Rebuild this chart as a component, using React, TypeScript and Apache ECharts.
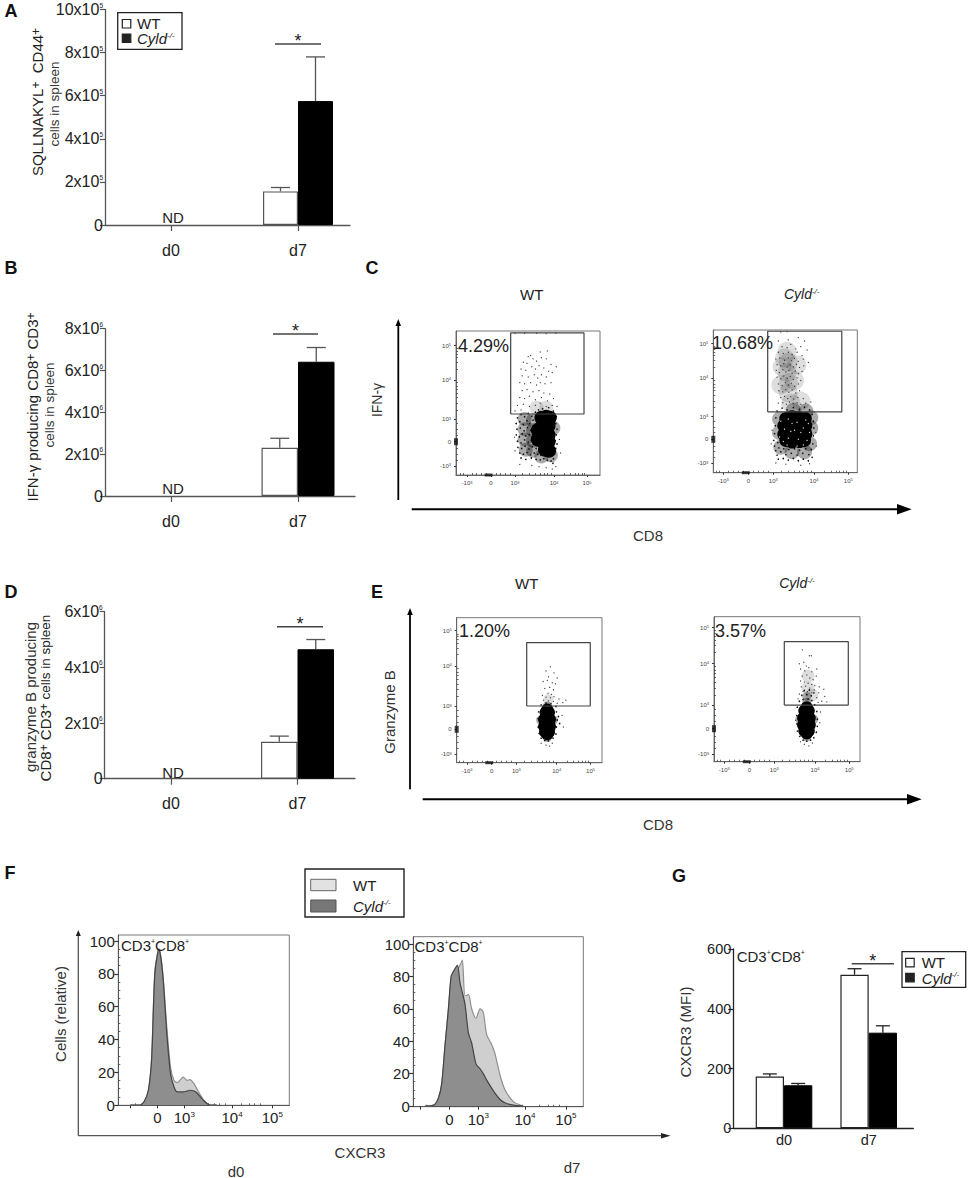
import React, { useEffect, useRef } from "react";
import * as echarts from "echarts";

const SANS = '"Liberation Sans", Arial, sans-serif';
const INK = "#222";

// ---------- bar panels ----------
const days = ["d0", "d7"];
const aTicks = [0, 200000, 400000, 600000, 800000, 1000000];
const aWT = [null, 156000];
const aWTerr = [null, 174000];
const aKO = [null, 575000];
const aKOerr = [null, 780000];
const bTicks = [0, 2000000, 4000000, 6000000, 8000000];
const bWT = [null, 2310000];
const bWTerr = [null, 2760000];
const bKO = [null, 6420000];
const bKOerr = [null, 7100000];
const dTicks = [0, 2000000, 4000000, 6000000];
const dWT = [null, 1330000];
const dWTerr = [null, 1530000];
const dKO = [null, 4650000];
const dKOerr = [null, 5000000];
const gTicks = [0, 200, 400, 600];
const gWT = [173, 514];
const gWTerr = [182, 534];
const gKO = [144, 320];
const gKOerr = [150, 343];

// ---------- flow plots (biexponential axis units) ----------
const flowXTicks = [-1, 0, 1, 2.63, 4];
const flowYTicks = [-1.07, 0, 1, 2.72, 4.23];
const flowTickLabels = ["-10|3", "0", "10|3", "10|4", "10|5"];
const flowXMinor = [-1.3, -1.15, -0.8, -0.6, -0.4, -0.2, 0.2, 0.4, 0.6, 0.8, 1.3, 1.6, 1.85, 2.05, 2.2, 2.35, 2.5, 3.05, 3.3, 3.5, 3.65, 3.8, 3.9];
const flowYMinor = [-0.8, -0.55, -0.3, 0.3, 0.55, 0.8, 1.4, 1.7, 1.95, 2.15, 2.3, 2.45, 2.6, 3.2, 3.5, 3.7, 3.85, 4.0, 4.1];

const cWtGate = [[0.82, 1.22], [3.875, 1.22], [3.875, 4.79], [0.82, 4.79], [0.82, 1.22]];
const cWtCore = [[2.1, 1.05], [2.3, 1.1], [2.45, 1.05], [2.15, 0.7], [2.4, 0.7], [2.1, 0.35], [2.4, 0.3], [2.15, 0], [2.4, 0], [2.25, -0.35], [2.42, -0.4], [1.95, 0.5], [1.95, 0.1]];
const cWtHaze = [[1.4, 1.0], [1.4, 0.55], [1.4, 0.1], [1.45, -0.35], [1.75, 0.95], [1.75, 0.5], [1.75, 0.05], [1.75, -0.4], [2.1, -0.65], [2.5, -0.6], [2.6, 0.6]];
const cWtGlow = [[1.9, 1.5], [2.3, 1.5]];
const cWtMid = [
  [1.1, 1.05], [1.25, 1.2], [1.4, 1.1], [1.55, 1.25], [1.7, 1.12], [1.85, 1.3], [1.98, 1.4], [2.15, 1.45], [2.4, 1.5], [2.6, 1.35], [2.72, 1.1],
  [1.05, 0.8], [1.2, 0.88], [1.35, 0.75], [1.5, 0.92], [1.62, 0.8], [1.75, 0.95], [1.85, 0.78], [2.7, 0.8], [2.75, 0.55],
  [1.08, 0.55], [1.22, 0.6], [1.38, 0.48], [1.52, 0.62], [1.65, 0.5], [1.78, 0.65], [2.72, 0.3],
  [1.05, 0.3], [1.18, 0.22], [1.3, 0.35], [1.45, 0.25], [1.6, 0.32], [1.72, 0.2], [2.68, 0.05], [2.75, -0.1],
  [1.1, 0.02], [1.25, -0.05], [1.4, 0.08], [1.55, -0.02], [1.68, 0.05], [1.8, -0.1], [2.7, -0.3],
  [1.12, -0.25], [1.28, -0.3], [1.42, -0.2], [1.58, -0.32], [1.72, -0.22], [1.88, -0.3], [2.0, -0.2], [2.65, -0.55],
  [1.2, -0.5], [1.35, -0.55], [1.5, -0.48], [1.65, -0.58], [1.8, -0.5], [1.95, -0.55], [2.08, -0.6], [2.6, -0.75],
  [1.25, -0.72], [1.45, -0.78], [1.68, -0.72], [1.88, -0.78], [2.05, -0.8], [2.2, -0.75], [2.35, -0.82], [2.5, -0.85], [2.58, -0.95],
];
const cWtSparse = [
  [2.05, 3.95], [2.35, 4.0], [1.55, 3.75], [1.65, 3.8], [1.75, 3.65], [1.35, 3.5], [1.5, 3.45], [1.9, 3.55], [2.1, 3.7], [2.3, 3.65], [2.5, 3.4], [2.72, 3.3],
  [1.25, 3.2], [1.45, 3.15], [1.7, 3.3], [1.85, 3.2], [2.0, 3.35], [2.2, 3.25], [2.4, 3.1], [2.55, 3.05], [1.3, 2.9], [1.55, 2.85], [1.8, 2.95], [1.95, 2.8],
  [2.1, 2.95], [2.3, 2.85], [1.2, 2.6], [1.4, 2.55], [1.65, 2.6], [1.9, 2.5], [2.05, 2.6], [2.25, 2.55], [2.5, 2.6], [1.3, 2.25], [1.5, 2.3], [1.75, 2.2],
  [2.0, 2.25], [2.2, 2.15], [2.45, 2.1], [1.2, 1.95], [1.4, 1.9], [1.6, 2.0], [1.85, 1.85], [2.1, 1.95], [2.35, 1.8], [2.6, 1.9], [1.1, 1.6], [1.35, 1.65],
  [1.6, 1.55], [1.85, 1.6], [2.05, 1.7], [2.3, 1.55], [2.55, 1.6], [2.75, 1.55], [1.0, 1.35], [1.25, 1.4], [1.0, 4.78], [1.4, 4.78], [1.9, 4.78], [2.3, 4.76], [2.7, 4.78],
  [1.2, -1.0], [1.7, -1.05], [2.0, -1.1], [2.3, -1.15], [2.55, -1.2], [2.7, -1.1], [1.0, -0.4], [0.98, 0.2], [2.85, 0.1], [2.9, -0.5],
];

const cKoGate = [[0.776, 1.21], [3.74, 1.21], [3.74, 4.78], [0.776, 4.78], [0.776, 1.21]];
const cKoCore = [[1.5, 0.92], [1.75, 1.0], [2.0, 0.98], [2.28, 0.92], [1.42, 0.6], [1.7, 0.62], [2.0, 0.6], [2.3, 0.6], [1.42, 0.22], [1.7, 0.25], [2.0, 0.2], [2.3, 0.22], [1.5, -0.05], [1.75, -0.12], [2.05, -0.1], [2.25, -0.05]];
const cKoHaze = [[1.25, 0.9], [1.25, 0.3], [1.3, -0.35], [1.75, -0.55], [2.25, -0.55], [2.5, 0.5], [2.45, -0.2], [1.8, 1.3], [2.3, 1.25], [2.5, 0.95]];
const cKoGlow = [[1.55, 3.9], [1.6, 3.4], [1.55, 2.95], [1.6, 2.5], [1.6, 2.05], [1.7, 1.6], [1.95, 3.3], [1.35, 3.2], [1.85, 2.6], [1.3, 2.4], [1.45, 3.6], [2.1, 1.7]];
const cKoSpecks = [[1.3, 0.8], [1.6, 0.9], [1.95, 0.75], [2.3, 0.85], [1.45, 0.45], [1.85, 0.4], [2.2, 0.5], [2.45, 0.3], [1.25, 0.1], [1.6, 0.05], [2.0, 0.0], [2.35, -0.05], [1.55, -0.25], [1.95, -0.3], [2.2, -0.25], [1.75, 0.7], [2.1, 0.3], [1.4, -0.1], [1.7, 0.35], [2.4, 0.7]];
const cKoMid = [
  [1.15, 1.25], [1.35, 1.38], [1.55, 1.3], [1.8, 1.4], [2.05, 1.32], [2.25, 1.42], [2.45, 1.3], [2.55, 1.1], [2.6, 0.8], [2.62, 0.5], [2.6, 0.15], [2.58, -0.2],
  [1.1, 0.95], [1.08, 0.6], [1.05, 0.25], [1.02, -0.05], [1.05, -0.3], [1.1, -0.5], [1.15, -0.7], [1.22, -0.38], [1.3, -0.55], [1.42, -0.42], [1.5, -0.68], [1.62, -0.45],
  [1.72, -0.62], [1.85, -0.42], [1.95, -0.7], [2.05, -0.48], [2.18, -0.62], [2.3, -0.42], [2.42, -0.68], [2.52, -0.45], [2.55, -0.8], [1.2, -0.88], [1.4, -0.85], [1.6, -0.92],
  [1.8, -0.85], [2.0, -0.95], [2.2, -0.88], [2.4, -0.95], [1.18, -0.15], [1.25, 0.1], [2.5, 0.4], [2.48, 0.0],
];
const cKoSparse = [
  [1.2, 4.35], [1.6, 4.4], [2.0, 4.5], [2.25, 4.35], [1.35, 4.1], [1.55, 4.05], [1.7, 4.2], [1.9, 4.0], [2.1, 4.1], [1.2, 3.85], [1.4, 3.8], [1.6, 3.85], [1.75, 3.75], [1.95, 3.85], [2.15, 3.7],
  [2.35, 3.95], [1.1, 3.55], [1.25, 3.6], [1.45, 3.5], [1.6, 3.6], [1.72, 3.48], [1.85, 3.58], [2.0, 3.45], [2.2, 3.55], [1.15, 3.3], [1.3, 3.25], [1.42, 3.35], [1.55, 3.2], [1.68, 3.3], [1.8, 3.2],
  [1.92, 3.32], [2.05, 3.18], [2.22, 3.25], [2.4, 3.4], [1.12, 3.05], [1.25, 2.95], [1.38, 3.08], [1.5, 2.98], [1.62, 3.05], [1.75, 2.92], [1.88, 3.02], [2.0, 2.9], [2.15, 3.0], [1.15, 2.75], [1.3, 2.68],
  [1.42, 2.8], [1.55, 2.7], [1.68, 2.78], [1.8, 2.65], [1.95, 2.72], [2.1, 2.6], [1.2, 2.45], [1.35, 2.38], [1.48, 2.5], [1.6, 2.4], [1.72, 2.48], [1.85, 2.35], [2.0, 2.45], [1.22, 2.15], [1.38, 2.1],
  [1.5, 2.2], [1.62, 2.08], [1.75, 2.18], [1.9, 2.05], [2.05, 2.15], [1.3, 1.85], [1.45, 1.9], [1.58, 1.8], [1.7, 1.88], [1.82, 1.78], [1.98, 1.85], [2.2, 1.8], [1.2, 1.6], [1.38, 1.62], [1.52, 1.55],
  [1.65, 1.65], [1.8, 1.58], [1.95, 1.62], [2.1, 1.55], [2.3, 1.6], [2.5, 1.65], [0.95, 0.4], [0.92, -0.2], [1.1, -1.05], [1.5, -1.1], [2.1, -1.15], [2.45, -1.08], [2.7, 0.3], [2.72, -0.3], [1.3, 4.75], [1.55, 4.77],
];

const eWtGate = [[1.417, 1.0], [3.99, 1.0], [3.99, 3.72], [1.417, 3.72], [1.417, 1.0]];
const eWtCore = [[2.18, 0.72], [2.32, 0.72], [2.12, 0.42], [2.36, 0.42], [2.12, 0.12], [2.36, 0.12], [2.16, -0.12], [2.32, -0.12], [2.25, 0.85], [2.25, -0.22]];
const eWtHaze = [[2.25, 1.0], [2.25, -0.35], [1.98, 0.4], [2.5, 0.4]];
const eWtGlow = [[2.3, 1.3]];
const eWtMid = [
  [2.0, 1.05], [2.2, 1.12], [2.4, 1.1], [2.6, 0.98], [1.9, 0.75], [2.62, 0.75], [1.88, 0.45], [2.65, 0.4], [1.88, 0.1], [2.62, 0.1],
  [1.92, -0.18], [2.6, -0.2], [2.0, -0.38], [2.15, -0.48], [2.3, -0.5], [2.48, -0.38], [2.7, 0.55], [2.75, 0.25],
];
const eWtSparse = [
  [2.38, 2.68], [2.2, 2.5], [2.52, 2.42], [2.3, 2.25], [2.65, 2.2], [2.08, 2.05], [2.25, 2.1], [2.45, 2.0], [2.58, 1.95], [2.15, 1.75], [2.35, 1.8], [2.5, 1.7], [2.28, 1.55], [2.42, 1.5],
  [2.05, 1.45], [2.2, 1.38], [2.38, 1.35], [2.52, 1.4], [2.72, 1.3], [3.0, 1.25], [2.88, 1.15], [2.1, 1.25], [2.3, 1.22], [2.5, 1.2], [2.65, 1.12], [2.0, -0.6], [2.2, -0.68], [2.35, -0.72], [2.45, -0.6], [2.85, 0.6], [2.9, 0.1],
];

const eKoGate = [[1.4, 0.99], [3.96, 0.99], [3.96, 3.64], [1.4, 3.64], [1.4, 0.99]];
const eKoCore = [[2.2, 0.75], [2.38, 0.75], [2.15, 0.45], [2.42, 0.45], [2.15, 0.15], [2.42, 0.15], [2.2, -0.1], [2.38, -0.1], [2.3, 0.9], [2.3, -0.2]];
const eKoHaze = [[2.3, 1.1], [2.3, -0.35], [2.02, 0.4], [2.58, 0.4], [2.3, 1.35]];
const eKoGlow = [[2.35, 1.7], [2.35, 2.2], [2.5, 1.4]];
const eKoMid = [
  [2.0, 1.15], [2.15, 1.22], [2.35, 1.25], [2.5, 1.18], [2.62, 1.0], [1.92, 0.9], [2.7, 0.72], [1.9, 0.55], [2.72, 0.4], [1.9, 0.2], [2.72, 0.1], [1.92, -0.1], [2.68, -0.15], [2.02, -0.32], [2.58, -0.38],
  [2.15, -0.48], [2.3, -0.52], [2.45, -0.48], [2.1, 1.4], [2.3, 1.42], [2.48, 1.38], [2.2, 1.6], [2.4, 1.62], [2.58, 1.5],
];
const eKoSparse = [
  [2.12, 3.3], [2.4, 3.05], [2.48, 3.05], [2.0, 2.72], [2.18, 2.78], [2.28, 2.62], [2.05, 2.5], [2.22, 2.42], [2.38, 2.55], [2.5, 2.38], [2.7, 2.5], [2.12, 2.2], [2.3, 2.25], [2.42, 2.12], [2.55, 2.05],
  [2.68, 2.2], [2.05, 2.0], [2.2, 1.95], [2.35, 1.9], [2.5, 1.85], [2.62, 1.8], [2.8, 1.75], [2.98, 1.65], [2.08, 1.75], [2.25, 1.78], [2.42, 1.7], [2.6, 1.62], [2.78, 1.5], [3.02, 1.35], [2.0, 1.45],
  [2.15, 1.55], [2.32, 1.55], [2.5, 1.5], [2.7, 1.3], [2.9, 1.15], [1.95, 1.25], [2.75, 1.1], [3.1, 1.12], [1.85, 0.35], [2.82, 0.25], [2.05, -0.55], [2.2, -0.65], [2.38, -0.72], [2.52, -0.6], [2.85, 0.7],
];

// ---------- histograms ----------
const histYTicks = [0, 20, 40, 60, 80, 100];
const histYMinor = [5, 10, 15, 25, 30, 35, 45, 50, 55, 65, 70, 75, 85, 90, 95];
const histXLabels = ["0", "10|3", "10|4", "10|5"];
const f0Ticks = [-1, 0, 1, 2.77, 4.26];
const f7Ticks = [-1, 0, 1, 2.61, 4.02];
const histXMinor = [-0.8, -0.6, -0.4, -0.2, 0.2, 0.4, 0.6, 0.8, 1.3, 1.6, 1.9, 2.1, 2.3, 2.5, 3.1, 3.4, 3.6, 3.8];
const f0X = [-1.0, -0.64, -0.49, -0.33, -0.21, -0.09, 0.06, 0.2, 0.35, 0.49, 0.62, 0.74, 0.96, 1.1, 1.21, 1.36, 1.46, 1.7, 1.95, 2.2];
const f0KO = [0, 0, 2, 9, 28, 80, 95, 80, 44, 19, 11, 8, 8, 8.5, 9, 8.5, 7.5, 3, 0, 0];
const f0WT = [0, 0, 2, 9, 29, 82, 95, 81, 48, 23, 15, 13.7, 17, 15, 15.5, 13, 10, 3.5, 0, 0];
const f7X = [-0.84, -0.55, -0.38, -0.26, -0.15, -0.03, 0.06, 0.14, 0.28, 0.37, 0.45, 0.54, 0.66, 0.77, 0.92, 1.06, 1.17, 1.29, 1.46, 1.57, 1.75, 1.92, 2.21, 2.55];
const f7KO = [0, 0.4, 4.7, 14, 37, 60, 80, 83, 87, 76, 70, 63, 45, 39, 26, 23, 20, 16, 11, 8, 4, 2, 0.5, 0];
const f7WT = [0, 0.4, 4.7, 14, 37, 60, 78, 81, 84, 87, 90, 68, 68.7, 60, 54, 60, 58, 44, 38, 32.6, 19, 10, 2.7, 0];

// ---------- builders ----------
const grids: any[] = [];
const xAxes: any[] = [];
const yAxes: any[] = [];
const series: any[] = [];

const supRich = (size: number, sup: number, italic = false) => ({
  b: { fontFamily: SANS, fontSize: size, color: INK, fontStyle: italic ? "italic" : "normal" },
  s: { fontFamily: SANS, fontSize: sup, color: INK, verticalAlign: "top", fontStyle: italic ? "italic" : "normal", padding: [0, 0, 4, 0] },
});
const supText = (t: string) => {
  const [a, b] = t.split("|");
  return b ? `{b|${a}}{s|${b}}` : `{b|${a}}`;
};

function barPanel(o: any) {
  const { l, r, t, b, x0, x1, ticks, ymax, exp, wt, wte, ko, koe, bw, cap, margin, font, xTick, line, yMargin } = o;
  const unit = x1 - x0;
  const i = grids.length;
  grids.push({ left: l, top: t, width: r - l, height: b - t, containLabel: false });
  xAxes.push({
    gridIndex: i, type: "value", min: 1 + (l - x0) / unit, max: 1 + (r - x0) / unit, splitLine: { show: false },
    axisLine: { onZero: false, lineStyle: { color: line, width: 1.3 } },
    axisTick: { show: xTick, customValues: [1, 2], length: 6, lineStyle: { color: line, width: 1.2 } },
    axisLabel: { customValues: [1, 2], margin, formatter: (v: number) => days[v - 1], fontFamily: SANS, fontSize: font, color: INK },
  });
  yAxes.push({
    gridIndex: i, type: "value", min: 0, max: ymax, splitLine: { show: false },
    axisLine: { onZero: false, lineStyle: { color: line, width: 1.3 } },
    axisTick: { length: 5, customValues: ticks, lineStyle: { color: line, width: 1.2 } },
    axisLabel: {
      customValues: ticks, margin: yMargin,
      formatter: (v: number) => (exp ? (v === 0 ? "{b|0}" : `{b|${v / Math.pow(10, exp)}x10}{s|${exp}}`) : `{b|${v}}`),
      rich: supRich(font, 6.5),
    },
  });
  const mk = (vals: any[]) => vals.map((v, k) => [k + 1, v]);
  series.push(
    { type: "bar", xAxisIndex: i, yAxisIndex: i, barWidth: bw, barGap: "0%", data: mk(wt), itemStyle: { color: "#fff", borderColor: line, borderWidth: 1.2 } },
    { type: "bar", xAxisIndex: i, yAxisIndex: i, barWidth: bw, barGap: "0%", data: mk(ko), itemStyle: { color: "#000", borderColor: "#000", borderWidth: 1 } },
  );
  const err = (vals: any[], errs: any[], dx: number) => ({
    type: "custom", xAxisIndex: i, yAxisIndex: i, z: 3,
    data: vals.map((v, k) => [k + 1, v, errs[k]]).filter((d) => d[1] !== null),
    encode: { x: 0, y: [1, 2] },
    renderItem: (_: any, api: any) => {
      const a = api.coord([api.value(0), api.value(1)]);
      const c = api.coord([api.value(0), api.value(2)]);
      const x = a[0] + dx;
      const style = { stroke: line, lineWidth: 1.3 };
      return {
        type: "group",
        children: [
          { type: "line", shape: { x1: x, y1: a[1], x2: x, y2: c[1] }, style },
          { type: "line", shape: { x1: x - cap, y1: c[1], x2: x + cap, y2: c[1] }, style },
        ],
      };
    },
  });
  series.push(err(wt, wte, -bw / 2), err(ko, koe, bw / 2));
}

function addMinorAxes(i: number, xo: any, yo: any, xMinor: number[], yMinor: number[], color: string) {
  xAxes.push({ gridIndex: i, type: "value", min: xo.min, max: xo.max, position: "bottom", splitLine: { show: false }, axisLine: { show: false, onZero: false }, axisLabel: { show: false }, axisTick: { inside: true, length: 2, customValues: xMinor, lineStyle: { color, width: 0.8 } } });
  yAxes.push({ gridIndex: i, type: "value", min: yo.min, max: yo.max, position: "left", splitLine: { show: false }, axisLine: { show: false, onZero: false }, axisLabel: { show: false }, axisTick: { inside: true, length: 2, customValues: yMinor, lineStyle: { color, width: 0.8 } } });
}

function flowPanel(o: any) {
  const { l, r, t, b, x0, ux, y0, uy, gate, core, coreSize, mid, sparse, haze, hazeSize, glow, glowSize, specks } = o;
  const i = grids.length;
  grids.push({ left: l, top: t, width: r - l, height: b - t, show: true, borderColor: "#777", borderWidth: 1, backgroundColor: "transparent" });
  const xo = { min: (l - x0) / ux, max: (r - x0) / ux };
  const yo = { min: (y0 - b) / uy, max: (y0 - t) / uy };
  const lbl = (ticks: number[]) => ({
    customValues: ticks, margin: 5,
    formatter: (v: number) => supText(flowTickLabels[ticks.indexOf(v)] ?? ""),
    rich: { b: { fontFamily: SANS, fontSize: 6, color: "#444" }, s: { fontFamily: SANS, fontSize: 4, color: "#444", verticalAlign: "top" } },
  });
  xAxes.push({ gridIndex: i, type: "value", ...xo, splitLine: { show: false }, axisLine: { onZero: false, lineStyle: { color: "#666", width: 1 } }, axisTick: { length: 2, customValues: flowXTicks, lineStyle: { color: "#333" } }, axisLabel: lbl(flowXTicks) });
  yAxes.push({ gridIndex: i, type: "value", ...yo, splitLine: { show: false }, axisLine: { onZero: false, lineStyle: { color: "#666", width: 1 } }, axisTick: { length: 2, customValues: flowYTicks, lineStyle: { color: "#333" } }, axisLabel: lbl(flowYTicks) });
  const ax = xAxes.length - 1;
  const ay = yAxes.length - 1;
  addMinorAxes(i, xo, yo, flowXMinor, flowYMinor, "#444");
  const dots = (data: number[][], size: number, color: string, opacity = 1) => ({
    type: "scatter", xAxisIndex: ax, yAxisIndex: ay, data, symbolSize: size, itemStyle: { color, opacity }, silent: true,
  });
  series.push(dots(glow, glowSize, "#000", 0.13), dots(haze, hazeSize, "#000", 0.33), dots(sparse, 1.2, "#333"), dots(mid, 1.6, "#111"), dots(core, coreSize, "#000"));
  if (specks) series.push(dots(specks, 1.3, "#ddd"));
  series.push({
    type: "line", xAxisIndex: ax, yAxisIndex: ay, data: gate, showSymbol: false, symbol: "none", clip: false, z: 4,
    lineStyle: { color: "#444", width: 1.2 },
  });
  series.push(
    { type: "scatter", xAxisIndex: ax, yAxisIndex: ay, data: [[xo.min, 0]], symbol: "rect", symbolSize: [4, 7], clip: false, itemStyle: { color: "#111" } },
    { type: "scatter", xAxisIndex: ax, yAxisIndex: ay, data: [[-0.1, yo.min]], symbol: "rect", symbolSize: [8, 3], clip: false, itemStyle: { color: "#111" } },
  );
}

function histPanel(o: any) {
  const { l, r, t, b, x0, ux, zero, hundred, ticks, xs, wt, ko } = o;
  const i = grids.length;
  grids.push({ left: l, top: t, width: r - l, height: b - t, show: true, borderColor: "#777", borderWidth: 1, backgroundColor: "transparent" });
  const pxPerUnit = (zero - hundred) / 100;
  const xo = { min: (l - x0) / ux, max: (r - x0) / ux };
  const yo = { min: (zero - b) / pxPerUnit, max: (zero - t) / pxPerUnit };
  const xShown = ticks.slice(1);
  xAxes.push({
    gridIndex: i, type: "value", ...xo, splitLine: { show: false }, axisLine: { onZero: false, lineStyle: { color: "#555", width: 1 } },
    axisTick: { length: 3, customValues: ticks, lineStyle: { color: "#333" } },
    axisLabel: { customValues: xShown, margin: 5, formatter: (v: number) => supText(histXLabels[xShown.indexOf(v)] ?? ""), rich: supRich(15, 8) },
  });
  yAxes.push({
    gridIndex: i, type: "value", ...yo, splitLine: { show: false }, axisLine: { onZero: false, lineStyle: { color: "#555", width: 1 } },
    axisTick: { length: 4, customValues: histYTicks, lineStyle: { color: "#333", width: 1.2 } },
    axisLabel: { customValues: histYTicks, margin: 3.5, fontFamily: SANS, fontSize: 15, color: INK },
  });
  const ax = xAxes.length - 1;
  const ay = yAxes.length - 1;
  addMinorAxes(i, xo, yo, histXMinor, histYMinor, "#444");
  const area = (vals: number[], fill: string, stroke: string) => ({
    type: "line", xAxisIndex: ax, yAxisIndex: ay, data: xs.map((x: number, k: number) => [x, vals[k]]), smooth: 0.25, showSymbol: false, symbol: "none",
    lineStyle: { color: stroke, width: 1.2 }, areaStyle: { color: fill, opacity: 1 },
  });
  series.push(area(wt, "#cfcfcf", "#8f8f8f"), area(ko, "#8e8e8e", "#444"));
}

barPanel({ l: 105, r: 350, t: 9.5, b: 225, x0: 171, x1: 298, ticks: aTicks, ymax: 1000000, exp: 5, wt: aWT, wte: aWTerr, ko: aKO, koe: aKOerr, bw: 35, cap: 9.5, margin: 17, font: 16, xTick: true, line: "#555", yMargin: 2 });
barPanel({ l: 105, r: 355, t: 328.7, b: 496, x0: 171, x1: 298, ticks: bTicks, ymax: 8000000, exp: 6, wt: bWT, wte: bWTerr, ko: bKO, koe: bKOerr, bw: 36.5, cap: 9.5, margin: 17, font: 16, xTick: true, line: "#555", yMargin: 2 });
barPanel({ l: 104.7, r: 355, t: 611.7, b: 778.7, x0: 171, x1: 297.5, ticks: dTicks, ymax: 6000000, exp: 6, wt: dWT, wte: dWTerr, ko: dKO, koe: dKOerr, bw: 36.5, cap: 9.5, margin: 17, font: 16, xTick: true, line: "#555", yMargin: 2 });
barPanel({ l: 733.3, r: 913.3, t: 949, b: 1128.3, x0: 784, x1: 868.7, ticks: gTicks, ymax: 600, exp: 0, wt: gWT, wte: gWTerr, ko: gKO, koe: gKOerr, bw: 28.3, cap: 7, margin: 4, font: 14.5, xTick: false, line: "#222", yMargin: 2 });

flowPanel({ l: 456, r: 600, t: 331, b: 475, x0: 491, ux: 24, y0: 441.7, uy: 22.7, gate: cWtGate, core: cWtCore, coreSize: 14, mid: cWtMid, sparse: cWtSparse, haze: cWtHaze, hazeSize: 14, glow: cWtGlow, glowSize: 14 });
flowPanel({ l: 713.3, r: 857.3, t: 330, b: 472.7, x0: 748.3, ux: 25, y0: 439.3, uy: 22.6, gate: cKoGate, core: cKoCore, coreSize: 13, mid: cKoMid, sparse: cKoSparse, haze: cKoHaze, hazeSize: 15, glow: cKoGlow, glowSize: 19, specks: cKoSpecks });
flowPanel({ l: 456.7, r: 602, t: 617.7, b: 762.7, x0: 491.7, ux: 24.7, y0: 729.3, uy: 23.3, gate: eWtGate, core: eWtCore, coreSize: 12, mid: eWtMid, sparse: eWtSparse, haze: eWtHaze, hazeSize: 9, glow: eWtGlow, glowSize: 10 });
flowPanel({ l: 714, r: 860, t: 616.7, b: 761.7, x0: 749.3, ux: 25, y0: 728.7, uy: 23.9, gate: eKoGate, core: eKoCore, coreSize: 12, mid: eKoMid, sparse: eKoSparse, haze: eKoHaze, hazeSize: 9, glow: eKoGlow, glowSize: 13 });

histPanel({ l: 118.3, r: 289.3, t: 935, b: 1105.3, x0: 157.3, ux: 27, zero: 1105, hundred: 941, ticks: f0Ticks, xs: f0X, wt: f0WT, ko: f0KO });
histPanel({ l: 413.3, r: 583.3, t: 936.7, b: 1106.7, x0: 449.3, ux: 29, zero: 1106, hundred: 944, ticks: f7Ticks, xs: f7X, wt: f7WT, ko: f7KO });

// ---------- annotations ----------
const g: any[] = [];
const txt = (text: string, x: number, y: number, size = 15, opt: any = {}) =>
  g.push({
    type: "text", x, y, rotation: opt.rotate ? Math.PI / 2 : 0, z: 20,
    style: {
      text, fontFamily: SANS, fontSize: size, fill: opt.fill ?? INK, fontWeight: opt.bold ? "bold" : "normal", fontStyle: opt.italic ? "italic" : "normal",
      align: opt.align ?? "center", verticalAlign: "middle", rich: opt.rich,
    },
  });
const ln = (x1: number, y1: number, x2: number, y2: number, stroke = "#444", lineWidth = 1.3) =>
  g.push({ type: "line", z: 20, shape: { x1, y1, x2, y2 }, style: { stroke, lineWidth } });
const box = (x: number, y: number, w: number, h: number, fill: string, stroke: string, lineWidth = 1.2) =>
  g.push({ type: "rect", z: 19, shape: { x, y, width: w, height: h }, style: { fill, stroke, lineWidth } });
const tri = (pts: number[][], fill = "#000") => g.push({ type: "polygon", z: 20, shape: { points: pts }, style: { fill } });

const cyld = (size: number) => ({ text: "{b|Cyld}{s|-/-}", rich: supRich(size, 8, true) });

[["A", 11, 11], ["B", 11, 268], ["C", 372, 268], ["D", 11, 592], ["E", 377, 592], ["F", 10, 873], ["G", 679, 876]].forEach(([t, x, y]: any) => txt(t, x, y, 18, { bold: true, fill: "#111" }));

// y titles
const titleRich = { a: { fontFamily: SANS, fontSize: 15, color: "#333" }, p: { fontFamily: SANS, fontSize: 12, color: "#333", verticalAlign: "top" } };
txt("{a|SQLLNAKYL}{p|+}{a|  CD44}{p|+}", 37, 102, 15, { rotate: true, rich: titleRich });
txt("cells in spleen", 54, 104, 13.5, { rotate: true, fill: "#333" });
txt("{a|IFN-γ producing CD8}{p|+}{a| CD3}{p|+}", 32, 407, 15, { rotate: true, rich: titleRich });
txt("cells in spleen", 49, 405, 13.5, { rotate: true, fill: "#333" });
txt("granzyme B producing", 30, 697, 15, { rotate: true, fill: "#333" });
txt("{a|CD8}{p|+}{a| CD3}{p|+}{c| cells in spleen}", 45, 698, 15, { rotate: true, rich: { ...titleRich, c: { fontFamily: SANS, fontSize: 13.5, color: "#333" } } });
txt("Cells (relative)", 60, 1014, 15, { rotate: true, fill: "#333" });
txt("CXCR3 (MFI)", 685, 1032, 15, { rotate: true, fill: "#333" });
txt("IFN-γ", 377, 400, 14, { rotate: true, fill: "#333" });
txt("Granzyme B", 389, 712, 15, { rotate: true, fill: "#333" });

// ND
txt("ND", 173, 217, 15);
txt("ND", 173, 488, 15);
txt("ND", 173, 772, 15);

// significance
[[275, 321, 44], [273, 318, 334], [277, 323, 626.7], [851.7, 894, 963.7]].forEach(([a, b, y]) => {
  ln(a, y, b, y, "#444", 1.4);
  txt("*", (a + b) / 2, y - 3, 18);
});

// legends for bars
const barLegend = (x: number, y: number, w: number, h: number, sx: number, s1: number, s2: number, sw: number, tx: number) => {
  box(x, y, w, h, "#fff", "#222", 1.3);
  box(sx, s1, sw, sw, "#fff", "#222", 1.2);
  box(sx, s2, sw, sw, "#222", "#222", 1.2);
  txt("WT", tx, s1 + sw / 2 - 0.5, 15, { align: "left" });
  const c = cyld(15);
  txt(c.text, tx, s2 + sw / 2 + 0.5, 15, { align: "left", rich: c.rich });
};
barLegend(117.7, 12.7, 64.3, 36.6, 122.3, 19.5, 34, 8.5, 137);
barLegend(902, 951.7, 63.7, 35.6, 905.7, 958.3, 973.3, 8.5, 921.7);

// flow headers
txt("WT", 531.7, 294, 15);
const c1 = cyld(14);
txt(c1.text, 801.7, 294, 14, { rich: c1.rich });
txt("WT", 526.7, 583.3, 15);
txt(c1.text, 797, 583, 14, { rich: c1.rich });
txt("4.29%", 458, 346, 18, { align: "left" });
txt("10.68%", 712, 343, 18, { align: "left" });
txt("1.20%", 459, 631, 18, { align: "left" });
txt("3.57%", 715, 631, 18, { align: "left" });
txt("CD8", 648, 535, 15, { fill: "#333" });
txt("CD8", 658, 824, 15, { fill: "#333" });

// arrows of C and E
ln(398.3, 325, 398.3, 500, "#000", 1.8);
tri([[398.3, 319], [395.5, 326], [401, 326]]);
ln(411.7, 509.3, 900, 509.3, "#000", 2);
tri([[911.7, 509.3], [897, 504], [897, 514.6]]);
ln(410, 614, 410, 789.3, "#000", 1.8);
tri([[410, 608], [407.2, 615], [412.8, 615]]);
ln(422.7, 799.3, 910, 799.3, "#000", 2);
tri([[921.7, 799.3], [907, 794], [907, 804.6]]);

// F frame
ln(78.3, 935, 78.3, 1135.7, "#555", 1.3);
tri([[78.3, 930], [75.8, 936], [80.8, 936]], "#222");
ln(78.3, 1135.7, 662, 1135.7, "#555", 1.3);
tri([[670.5, 1135.7], [661, 1133], [661, 1138.4]], "#222");
txt("CXCR3", 360, 1152, 15, { fill: "#333" });
txt("d0", 236, 1171, 15, { fill: "#333" });
txt("d7", 572, 1167, 15, { fill: "#333" });
for (const [x, y] of [[121, 945], [414.5, 946]]) {
  txt("{b|CD3}{s|+}{b|CD8}{s|+}", x, y, 15, { align: "left", rich: supRich(15, 7) });
}
txt("{b|CD3}{s|+}{b|CD8}{s|+}", 736.7, 956, 15, { align: "left", rich: supRich(15, 7) });

// F legend
box(305, 869, 99, 48, "#fff", "#222", 1.4);
box(310.7, 879.3, 25.3, 11.4, "#e2e2e2", "#666", 1);
box(310.7, 900, 25.3, 12, "#777", "#555", 1);
txt("WT", 353, 885, 15, { align: "left" });
const c2 = cyld(15);
txt(c2.text, 353, 906, 15, { align: "left", rich: c2.rich });

const option = {
  animation: false,
  backgroundColor: "#fff",
  grid: grids,
  xAxis: xAxes,
  yAxis: yAxes,
  series,
  graphic: { elements: g },
};

export default function App() {
  const ref = useRef<HTMLDivElement>(null);
  useEffect(() => {
    const chart = echarts.init(ref.current!, undefined, { renderer: "svg" });
    chart.setOption(option as any);
    return () => chart.dispose();
  }, []);
  return <div ref={ref} style={{ position: "absolute", left: 0, top: 0, width: 969, height: 1178 }} />;
}
